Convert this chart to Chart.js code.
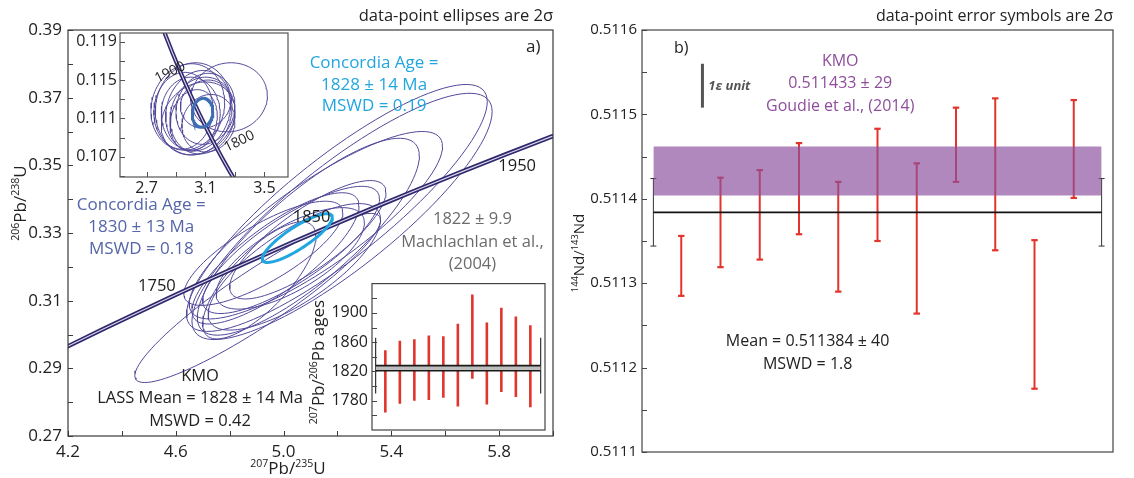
<!DOCTYPE html>
<html><head><meta charset="utf-8">
<script src="https://cdn.jsdelivr.net/npm/chart.js@4/dist/chart.umd.min.js"></script>
<style>
html,body{margin:0;padding:0;background:#fff;}
body{width:1134px;height:478px;overflow:hidden;position:relative;}
canvas{position:absolute;}
</style></head>
<body>
<canvas id="main" width="570" height="478" style="left:0;top:0"></canvas>
<canvas id="twInset" width="240" height="190" style="left:60px;top:20px"></canvas>
<canvas id="ageInset" width="260" height="175" style="left:300px;top:270px"></canvas>
<canvas id="nd" width="564" height="478" style="left:570px;top:0"></canvas>
<script>
// ================= DATA =================
// Concordia ages (Ma) used to trace the curves
const concordiaAges = [1600,1625,1650,1675,1700,1725,1750,1775,1800,1825,1850,1875,1900,1925,1950,1975,2000,2025,2050];
const concordiaLabelAges = [1750, 1850, 1950];
const insetConcordiaLabelAges = [1900, 1800];

// LASS spot analyses, Wetherill space (2σ half-widths, error correlation)
const lassPb207U235 = [5.198, 5.217, 5.120, 5.092, 5.028, 4.904, 4.970, 5.040, 4.925, 5.025, 4.910, 5.090];
const lassPb206U238 = [0.3374, 0.3349, 0.3323, 0.3289, 0.3250, 0.3108, 0.3225, 0.3200, 0.3240, 0.3225, 0.3160, 0.3280];
const lassErr207    = [0.558, 0.557, 0.470, 0.412, 0.328, 0.456, 0.310, 0.320, 0.295, 0.275, 0.210, 0.290];
const lassErr206    = [0.0365, 0.0364, 0.0277, 0.0291, 0.0188, 0.0250, 0.0194, 0.0187, 0.0154, 0.0150, 0.0173, 0.0175];
const lassRho       = [0.86, 0.85, 0.84, 0.82, 0.80, 0.92, 0.80, 0.75, 0.78, 0.70, 0.75, 0.80];
const concordiaAgeEllipse = [5.051, 0.3285, 0.13, 0.0072, 0.85];

// Tera-Wasserburg inset (238U/206Pb, 207Pb/206Pb)
const twU238Pb206 = [3.26, 2.98, 3.02, 3.05, 3.08, 3.00, 3.10, 3.05, 3.12, 2.95, 3.10, 3.02];
const twPb207Pb206 = [0.1132, 0.1122, 0.1120, 0.1118, 0.1113, 0.1115, 0.1120, 0.1110, 0.1105, 0.1118, 0.1125, 0.1108];
const twErrX = [0.26, 0.25, 0.26, 0.22, 0.22, 0.20, 0.20, 0.25, 0.18, 0.20, 0.17, 0.16];
const twErrY = [0.0036, 0.0045, 0.0048, 0.0042, 0.0040, 0.0038, 0.0037, 0.0038, 0.0030, 0.0040, 0.0025, 0.0032];
const twRho  = [0.05, 0.10, 0.05, 0.15, 0.10, 0.00, 0.10, 0.20, 0.10, 0.05, 0.10, 0.15];
const twConcordiaEllipse = [3.08, 0.1116, 0.07, 0.0015, 0.1];

// 207Pb/206Pb ages inset (Ma)
const ageHi = [1849, 1862, 1864, 1869, 1868, 1885, 1925, 1887, 1907, 1895, 1883];
const ageLo = [1764, 1776, 1780, 1781, 1784, 1772, 1810, 1775, 1792, 1785, 1771];
const ageMeanLines = [1828, 1821];
const ageMeanErr = [1790, 1866];

// Nd isotopes (2σ)
const ndHi = [0.511356, 0.511425, 0.511434, 0.511466, 0.511420, 0.511483, 0.511442, 0.511508, 0.511519, 0.511351, 0.511517];
const ndLo = [0.511285, 0.511319, 0.511328, 0.511358, 0.511290, 0.511350, 0.511264, 0.511420, 0.511339, 0.511175, 0.511401];
const ndMean = 0.511384, ndMeanErr = 0.000040;
const kmoRef = 0.511433, kmoRefErr = 0.000029;
const epsUnit = [0.511508, 0.511560];

// Tick values
const mainXMajor = [4.2, 4.6, 5.0, 5.4, 5.8], mainXMinor = [4.4, 4.8, 5.2, 5.6, 6.0];
const mainYMajor = [0.27, 0.29, 0.31, 0.33, 0.35, 0.37, 0.39], mainYMinor = [0.28, 0.30, 0.32, 0.34, 0.36, 0.38];
const twXMajor = [2.7, 3.1, 3.5], twXMinor = [2.9, 3.3];
const twYMajor = [0.107, 0.111, 0.115, 0.119], twYMinor = [0.105, 0.109, 0.113, 0.117];
const ageYMajor = [1780, 1820, 1860, 1900], ageYMinor = [1760, 1800, 1840, 1880, 1920];
const ndYMajor = [0.5111, 0.5112, 0.5113, 0.5114, 0.5115, 0.5116];
const ndYMinor = [0.51115, 0.51125, 0.51135, 0.51145, 0.51155];

// ================= HELPERS =================
const FONT = "'Open Sans','Noto Sans',sans-serif";
const L238 = 1.55125e-10, L235 = 9.8485e-10, U85 = 137.88;
function wetherill(t){const a=Math.exp(L238*t*1e6)-1,b=Math.exp(L235*t*1e6)-1;return {x:b,y:a};}
function teraW(t){const a=Math.exp(L238*t*1e6)-1,b=Math.exp(L235*t*1e6)-1;return {x:1/a,y:b/(a*U85)};}
function ellipsePts(cx,cy,sx,sy,r){const k=Math.sqrt(1-r*r),p=[];for(let i=0;i<=96;i++){const t=2*Math.PI*i/96;p.push({x:cx+sx*Math.cos(t),y:cy+sy*(r*Math.cos(t)+k*Math.sin(t))});}return p;}
function ln(data,color,w,extra){return Object.assign({data,borderColor:color,borderWidth:w,showLine:true,pointRadius:0,fill:false,tension:0},extra||{});}
function near(arr,v){return arr.some(m=>Math.abs(m-v)<1e-9);}
function linScale(o){
  return {type:'linear',min:o.min,max:o.max,display:o.display!==false,
    grid:{display:false,drawTicks:false},border:{display:false},
    afterBuildTicks:s=>{s.ticks=[...o.major,...o.minor].sort((a,b)=>a-b).map(v=>({value:v}));},
    ticks:{autoSkip:false,maxRotation:0,padding:o.pad||6,color:'#222',font:{family:FONT,size:o.size||15},
      callback:v=>near(o.major,v)?o.fmt(v):''},
    afterFit:o.fit};
}
function rich(ctx,parts,x,y,size,color,align,rot){
  ctx.save();ctx.translate(x,y);if(rot)ctx.rotate(rot);
  const seg=parts.map(p=>{const fs=p[1]?size*0.62:size;ctx.font=fs+'px '+FONT;return {t:p[0],sup:p[1],fs,w:ctx.measureText(p[0]).width};});
  const W=seg.reduce((a,s)=>a+s.w,0);
  let cx=align==='left'?0:align==='right'?-W:-W/2;
  ctx.fillStyle=color;ctx.textAlign='left';ctx.textBaseline='alphabetic';
  const base=size*0.36;
  seg.forEach(s=>{ctx.font=s.fs+'px '+FONT;ctx.fillText(s.t,cx,s.sup?base-size*0.42:base);cx+=s.w;});
  ctx.restore();
}
function text(ctx,s,x,y,size,color,align,fontStyle){
  ctx.save();ctx.font=(fontStyle||'')+' '+size+'px '+FONT;ctx.fillStyle=color;ctx.textAlign=align||'center';ctx.textBaseline='middle';ctx.fillText(s,x,y);ctx.restore();
}
function decoPlugin(o){
  return {id:'deco',
    beforeDraw(chart){if(o.bg){const a=chart.chartArea,c=chart.ctx;c.save();c.fillStyle='#fff';c.fillRect(a.left,a.top,a.right-a.left,a.bottom-a.top);c.restore();}},
    afterDraw(chart){
      const a=chart.chartArea,c=chart.ctx;
      c.save();c.strokeStyle=o.frame||'#3a3a3a';c.lineWidth=1.2;
      c.strokeRect(a.left,a.top,a.right-a.left,a.bottom-a.top);
      c.lineWidth=1;
      (o.ticks||[]).forEach(id=>{
        const s=chart.scales[id];
        s.ticks.forEach(t=>{const p=Math.round(s.getPixelForValue(t.value))+0.5;
          c.beginPath();
          if(id==='x'){c.moveTo(p,a.bottom);c.lineTo(p,a.bottom-5);}else{c.moveTo(a.left,p);c.lineTo(a.left+5,p);}
          c.stroke();});
      });
      c.restore();
      if(o.draw)o.draw(chart,c);
    }};
}
const base={responsive:false,animation:false,events:[],plugins:{legend:{display:false},tooltip:{enabled:false}}};

// ================= MAIN (Wetherill) =================
(function(){
  const conc=concordiaAges.map(wetherill);
  const ds=[
    ln(ellipsePts(...concordiaAgeEllipse),'#22a6df',3),
    ln(conc,'rgba(226,224,242,0.95)',1.1),
    ln(conc,'#2e276c',4.4)
  ];
  lassPb207U235.forEach((x,i)=>ds.push(ln(ellipsePts(x,lassPb206U238[i],lassErr207[i],lassErr206[i],lassRho[i]),'#51499a',1)));
  new Chart(document.getElementById('main'),{type:'scatter',data:{datasets:ds},
    options:Object.assign({},base,{
      layout:{padding:{left:0,right:17,top:30,bottom:0}},
      scales:{
        x:linScale({min:4.2,max:6.0,major:mainXMajor,minor:mainXMinor,fmt:v=>v.toFixed(1),size:17,pad:6,fit:s=>{s.height=42;}}),
        y:linScale({min:0.27,max:0.39,major:mainYMajor,minor:mainYMinor,fmt:v=>v.toFixed(2),size:17,pad:6,fit:s=>{s.width=68;}})
      }}),
    plugins:[decoPlugin({ticks:['x','y'],draw:(ch,c)=>{
      const X=v=>ch.scales.x.getPixelForValue(v),Y=v=>ch.scales.y.getPixelForValue(v);
      const labelPos=[[4.53,0.3141],[5.104,0.3346],[5.867,0.3497]];
      concordiaLabelAges.forEach((a,i)=>text(c,String(a),X(labelPos[i][0]),Y(labelPos[i][1]),16.5,'#1a1a1a'));
      const cy=['Concordia Age =','1828 ± 14 Ma','MSWD = 0.19'];
      cy.forEach((s,i)=>text(c,s,X(5.336),Y(0.3802)+i*21.5,17,'#22a6df'));
      const sb=['Concordia Age =','1830 ± 13 Ma','MSWD = 0.18'];
      sb.forEach((s,i)=>text(c,s,X(4.472),Y(0.3382)+i*22,17,'#5565a8'));
      const gr=['1822 ± 9.9','Machlachlan et al.,','(2004)'];
      gr.forEach((s,i)=>text(c,s,X(5.701),Y(0.334)+i*22.5,16.5,'#6b6b6b'));
      const km=['KMO','LASS Mean = 1828 ± 14 Ma','MSWD = 0.42'];
      km.forEach((s,i)=>text(c,s,X(4.69),Y(0.2877)+i*22.5,16.5,'#222'));
      text(c,'a)',X(5.927),Y(0.385),17,'#222');
      text(c,'data-point ellipses are 2σ',ch.chartArea.right,16,16.5,'#222','right');
      rich(c,[['206',1],['Pb/',0],['238',1],['U',0]],20,203,17,'#222','center',-Math.PI/2);
      rich(c,[['207',1],['Pb/',0],['235',1],['U',0]],288,468,17,'#222','center');
    }})]
  });
})();

// ================= TW INSET =================
(function(){
  const conc=concordiaAges.map(teraW);
  const ds=[
    ln(ellipsePts(...twConcordiaEllipse),'#3d6db2',3),
    ln(conc,'rgba(226,224,242,0.95)',1.1),
    ln(conc,'#2e276c',4.2)
  ];
  twU238Pb206.forEach((x,i)=>ds.push(ln(ellipsePts(x,twPb207Pb206[i],twErrX[i],twErrY[i],twRho[i]),'#51499a',1)));
  new Chart(document.getElementById('twInset'),{type:'scatter',data:{datasets:ds},
    options:Object.assign({},base,{
      layout:{padding:{left:0,right:12,top:13,bottom:0}},
      scales:{
        x:linScale({min:2.52,max:3.66,major:twXMajor,minor:twXMinor,fmt:v=>v.toFixed(1),size:16,pad:2,fit:s=>{s.height=33;}}),
        y:linScale({min:0.1049,max:0.1199,major:twYMajor,minor:twYMinor,fmt:v=>v.toFixed(3),size:16,pad:3,fit:s=>{s.width=60;}})
      }}),
    plugins:[decoPlugin({bg:true,ticks:['x','y'],frame:'#555',draw:(ch,c)=>{
      const X=v=>ch.scales.x.getPixelForValue(v),Y=v=>ch.scales.y.getPixelForValue(v);
      const pos=[[2.86,0.1158,-0.45],[3.33,0.1086,-0.45]];
      insetConcordiaLabelAges.forEach((a,i)=>{c.save();c.translate(X(pos[i][0]),Y(pos[i][1]));c.rotate(pos[i][2]);text(c,String(a),0,0,14,'#222');c.restore();});
    }})]
  });
})();

// ================= AGE INSET =================
(function(){
  const red='#e0352c';
  const ds=[];
  ageMeanLines.forEach(v=>ds.push(ln([{x:0.33,y:v},{x:11.71,y:v}],'#1a1a1a',1.6)));
  ds.push(ln([{x:0.33,y:ageMeanLines[0]},{x:11.71,y:ageMeanLines[0]}],'rgba(0,0,0,0)',0));
  ds.push(ln([{x:0.33,y:ageMeanLines[1]},{x:11.71,y:ageMeanLines[1]}],'rgba(0,0,0,0)',0,{fill:'-1',backgroundColor:'#bdbdbd'}));
  [0.33,11.71].forEach(x=>ds.push(ln([{x,y:ageMeanErr[0]},{x,y:ageMeanErr[1]}],'#333',1.2)));
  ageHi.forEach((h,i)=>ds.push(ln([{x:i+1,y:ageLo[i]},{x:i+1,y:h}],red,2.6)));
  new Chart(document.getElementById('ageInset'),{type:'scatter',data:{datasets:ds},
    options:Object.assign({},base,{
      layout:{padding:{left:0,right:15,top:9,bottom:15}},
      scales:{
        x:{type:'linear',min:0.08,max:12.01,display:false},
        y:linScale({min:1740,max:1940,major:ageYMajor,minor:ageYMinor,fmt:v=>String(v),size:16,pad:4,fit:s=>{s.width=72;}})
      }}),
    plugins:[decoPlugin({bg:true,ticks:['y'],frame:'#444',draw:(ch,c)=>{
      rich(c,[['207',1],['Pb/',0],['206',1],['Pb ages',0]],18,92,17,'#222','center',-Math.PI/2);
    }})]
  });
})();

// ================= Nd PANEL =================
(function(){
  const red='#e3342c';
  const ds=[];
  ds.push(ln([{x:0.29,y:ndMean},{x:11.71,y:ndMean}],'#111',1.8));
  ds.push(ln([{x:0.29,y:kmoRef+kmoRefErr},{x:11.71,y:kmoRef+kmoRefErr}],'rgba(0,0,0,0)',0));
  ds.push(ln([{x:0.29,y:kmoRef-kmoRefErr},{x:11.71,y:kmoRef-kmoRefErr}],'rgba(0,0,0,0)',0,{fill:'-1',backgroundColor:'rgba(139,80,158,0.68)'}));
  [0.29,11.71].forEach(x=>ds.push(ln([{x,y:ndMean-ndMeanErr},{x,y:ndMean+ndMeanErr}],'#333',1,{pointRadius:3,pointStyle:'line',pointBorderColor:'#333',pointBorderWidth:1})));
  ndHi.forEach((h,i)=>ds.push(ln([{x:i+1,y:ndLo[i]},{x:i+1,y:h}],red,2,{pointRadius:3.2,pointStyle:'line',pointBorderColor:red,pointBorderWidth:2.2})));
  ds.push(ln([{x:1.54,y:epsUnit[0]},{x:1.54,y:epsUnit[1]}],'#555',3));
  new Chart(document.getElementById('nd'),{type:'scatter',data:{datasets:ds},
    options:Object.assign({},base,{
      layout:{padding:{left:0,right:21,top:30,bottom:26}},
      scales:{
        x:{type:'linear',min:0,max:12,display:false},
        y:linScale({min:0.5111,max:0.5116,major:ndYMajor,minor:ndYMinor,fmt:v=>v.toFixed(4),pad:5,fit:s=>{s.width=72;}})
      }}),
    plugins:[decoPlugin({ticks:['y'],frame:'#444',draw:(ch,c)=>{
      const X=v=>ch.scales.x.getPixelForValue(v),Y=v=>ch.scales.y.getPixelForValue(v);
      text(c,'b)',X(1.0),Y(0.511578),16,'#222');
      text(c,'1ε unit',X(1.69),Y(0.511533),13,'#555','left','italic bold');
      ['KMO','0.511433 ± 29','Goudie et al., (2014)'].forEach((s,i)=>text(c,s,X(5.05),Y(0.511563)+i*22.5,16,'#8e4e9b'));
      ['Mean = 0.511384 ± 40','MSWD = 1.8'].forEach((s,i)=>text(c,s,X(4.22),Y(0.511231)+i*23,16,'#222'));
      text(c,'data-point error symbols are 2σ',ch.chartArea.right,16,16,'#222','right');
      rich(c,[['144',1],['Nd/',0],['143',1],['Nd',0]],9,253,15,'#222','center',-Math.PI/2);
    }})]
  });
})();
</script>
</body></html>
